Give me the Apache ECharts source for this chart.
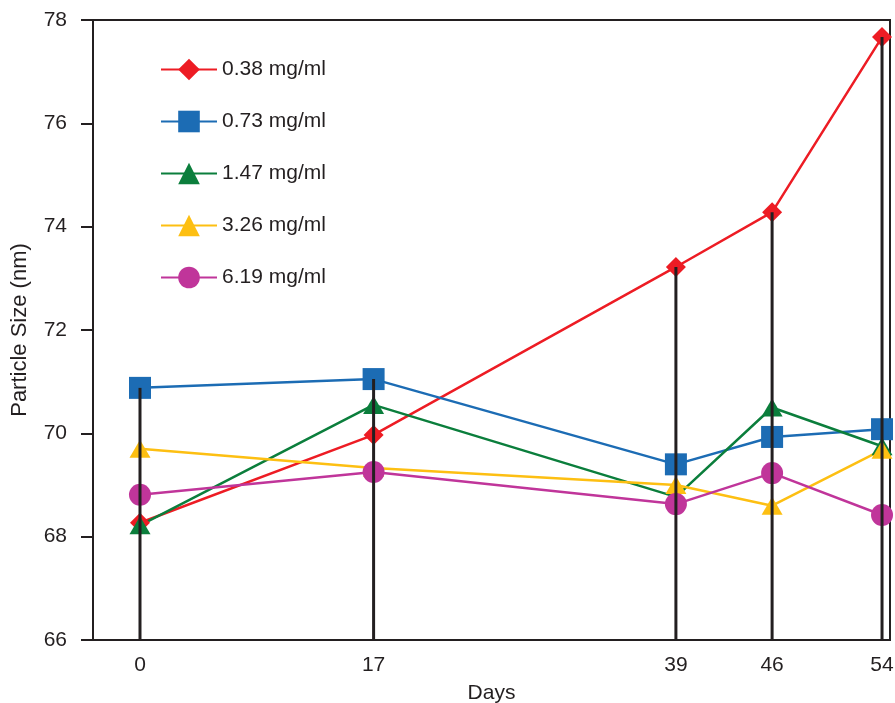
<!DOCTYPE html>
<html>
<head>
<meta charset="utf-8">
<script src="https://cdn.jsdelivr.net/npm/echarts@6/dist/echarts.min.js"></script>
<style>
  html, body { margin: 0; padding: 0; background: #fff; }
  #chart { width: 895px; height: 703px; }
</style>
</head>
<body>
<div id="chart"></div>
<script>
// Sampling days and particle size (nm) per concentration
const days = [0, 17, 39, 46, 54];
const seriesNames = ['0.38 mg/ml', '0.73 mg/ml', '1.47 mg/ml', '3.26 mg/ml', '6.19 mg/ml'];
const size038 = [68.27, 69.97, 73.22, 74.28, 77.67];
const size073 = [70.88, 71.05, 69.40, 69.93, 70.08];
const size147 = [68.22, 70.55, 68.77, 70.50, 69.75];
const size326 = [69.70, 69.33, 69.00, 68.60, 69.68];
const size619 = [68.81, 69.25, 68.63, 69.23, 68.42];
const yTicks = [66, 68, 70, 72, 74, 76, 78];

const colors = ['#ed1c24', '#1c6cb4', '#0b7e3c', '#fdbf12', '#c0359a'];
const symbols = ['diamond', 'rect', 'triangle', 'triangle', 'circle'];
const symbolSizes = [[20, 20], [22, 22], [21, 18], [21, 18], [22, 22]];
const allSizes = [size038, size073, size147, size326, size619];

// Stem top for each day: highest measured size on that day
const stemData = days.map((d, i) => [d, Math.max(...allSizes.map(s => s[i]))]);

const textColor = '#231f20';
const fontFamily = '"Liberation Sans", Arial, Helvetica, sans-serif';
const fontSize = 21;

const lineSeries = seriesNames.map((name, k) => ({
  name: name,
  type: 'line',
  data: days.map((d, i) => [d, allSizes[k][i]]),
  symbol: symbols[k],
  symbolSize: symbolSizes[k],
  itemStyle: { color: colors[k] },
  lineStyle: { color: colors[k], width: 2.5 },
  z: 3,
  animation: false
}));

const stemSeries = {
  type: 'custom',
  data: stemData,
  z: 5,
  silent: true,
  animation: false,
  renderItem: function (params, api) {
    const top = api.coord([api.value(0), api.value(1)]);
    const bottom = api.coord([api.value(0), 66]);
    return {
      type: 'line',
      shape: { x1: top[0], y1: top[1], x2: bottom[0], y2: bottom[1] },
      style: { stroke: '#231f20', lineWidth: 3 }
    };
  }
};

const chart = echarts.init(document.getElementById('chart'), null, { renderer: 'canvas' });
chart.setOption({
  backgroundColor: '#fff',
  textStyle: { fontFamily: fontFamily, color: textColor },
  grid: {
    left: 93, top: 20, right: 5, bottom: 63,
    outerBoundsMode: 'none',
    containLabel: false,
    show: true, borderColor: '#231f20', borderWidth: 2, backgroundColor: 'transparent'
  },
  legend: {
    orient: 'vertical',
    left: 155,
    top: 49,
    itemWidth: 56,
    itemHeight: 27,
    itemGap: 21,
    textStyle: { fontSize: fontSize, color: textColor, fontFamily: fontFamily, lineHeight: 31, height: 31 },
    data: seriesNames
  },
  xAxis: {
    type: 'value',
    min: -3.42,
    max: 54.58,
    name: 'Days',
    nameLocation: 'middle',
    nameGap: 43,
    nameTextStyle: { fontSize: fontSize, color: textColor },
    axisLine: { show: true, onZero: false, lineStyle: { color: '#231f20', width: 2 } },
    axisTick: { show: false },
    splitLine: { show: false },
    axisLabel: {
      customValues: days,
      fontSize: fontSize,
      color: textColor,
      margin: 15
    }
  },
  yAxis: {
    type: 'value',
    min: 66,
    max: 78,
    interval: 2,
    name: 'Particle Size (nm)',
    nameLocation: 'middle',
    nameGap: 62,
    nameTextStyle: { fontSize: 22, color: textColor },
    axisLine: { show: true, onZero: false, lineStyle: { color: '#231f20', width: 2 } },
    axisTick: { show: true, length: 12, lineStyle: { color: '#231f20', width: 2 } },
    splitLine: { show: false },
    axisLabel: {
      fontSize: fontSize,
      color: textColor,
      margin: 26,
      formatter: v => (yTicks.includes(v) ? String(v) : '')
    }
  },
  series: lineSeries.concat([stemSeries])
});
</script>
</body>
</html>
